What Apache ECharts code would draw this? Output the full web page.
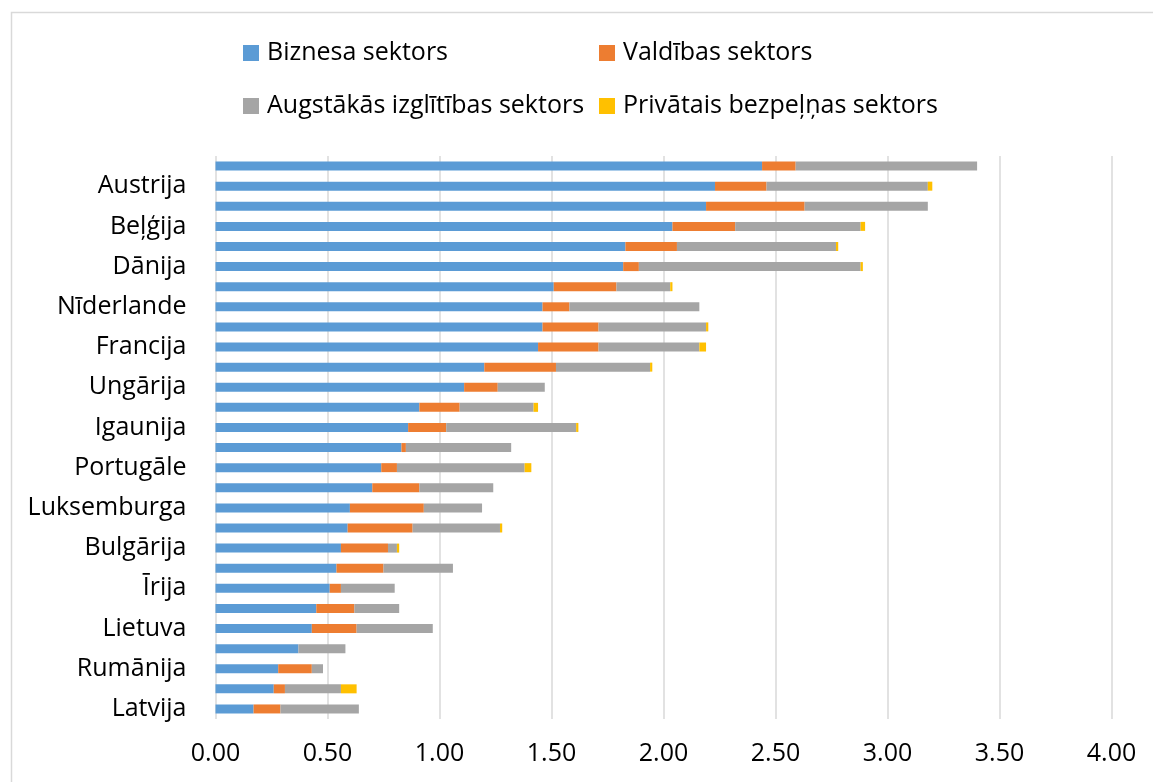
<!DOCTYPE html>
<html>
<head>
<meta charset="utf-8">
<script src="https://cdn.jsdelivr.net/npm/echarts@6/dist/echarts.min.js"></script>
<style>
  html, body { margin: 0; padding: 0; background: #fff; }
  #chart { width: 1153px; height: 782px; }
</style>
</head>
<body>
<div id="chart"></div>
<script>
// R&D expenditure by sector of performance, % of GDP
const countries = [
  'Zviedrija', 'Austrija', 'Vācija', 'Beļģija', 'Somija', 'Dānija', 'Slovēnija',
  'Nīderlande', 'ES-27', 'Francija', 'Čehija', 'Ungārija', 'Itālija', 'Igaunija',
  'Polija', 'Portugāle', 'Spānija', 'Luksemburga', 'Grieķija', 'Bulgārija',
  'Horvātija', 'Īrija', 'Slovākija', 'Lietuva', 'Malta', 'Rumānija', 'Kipra', 'Latvija'
];
const business = [2.44, 2.23, 2.19, 2.04, 1.83, 1.82, 1.51, 1.46, 1.46, 1.44, 1.20, 1.11, 0.91, 0.86,
                  0.83, 0.74, 0.70, 0.60, 0.59, 0.56, 0.54, 0.51, 0.45, 0.43, 0.37, 0.28, 0.26, 0.17];
const government = [0.15, 0.23, 0.44, 0.28, 0.23, 0.07, 0.28, 0.12, 0.25, 0.27, 0.32, 0.15, 0.18, 0.17,
                    0.02, 0.07, 0.21, 0.33, 0.29, 0.21, 0.21, 0.05, 0.17, 0.20, 0.00, 0.15, 0.05, 0.12];
const higherEducation = [0.81, 0.72, 0.55, 0.56, 0.71, 0.99, 0.24, 0.58, 0.48, 0.45, 0.42, 0.21, 0.33, 0.58,
                         0.47, 0.57, 0.33, 0.26, 0.39, 0.04, 0.31, 0.24, 0.20, 0.34, 0.21, 0.05, 0.25, 0.35];
const privateNonProfit = [0.00, 0.02, 0.00, 0.02, 0.01, 0.01, 0.01, 0.00, 0.01, 0.03, 0.01, 0.00, 0.02, 0.01,
                          0.00, 0.03, 0.00, 0.00, 0.01, 0.01, 0.00, 0.00, 0.00, 0.00, 0.00, 0.00, 0.07, 0.00];
const xTicks = [0, 0.5, 1, 1.5, 2, 2.5, 3, 3.5, 4];

const seriesNames = ['Biznesa sektors', 'Valdības sektors', 'Augstākās izglītības sektors', 'Privātais bezpeļņas sektors'];
const seriesData = [business, government, higherEducation, privateNonProfit];
const colors = ['#5B9BD5', '#ED7D31', '#A5A5A5', '#FFC000'];

const FONT = '"Open Sans", sans-serif';
const textStyle = { fontFamily: FONT, fontSize: 25, color: '#000' };

const chart = echarts.init(document.getElementById('chart'), null, { renderer: 'canvas' });

// one legend block per entry, laid out as a 2x2 table
const legendPos = [[243, 38], [599, 38], [243, 91], [599, 91]];
const legends = seriesNames.map((name, i) => ({
  show: true,
  data: [name],
  left: legendPos[i][0],
  top: legendPos[i][1],
  itemWidth: 16,
  itemHeight: 16,
  icon: 'rect',
  padding: 0,
  textStyle: Object.assign({}, textStyle, { lineHeight: 30, padding: [0, 0, 0, 3] })
}));

chart.setOption({
  animation: false,
  color: colors,
  textStyle: { fontFamily: FONT },
  graphic: [{
    type: 'rect',
    shape: { x: 11.5, y: 12.5, width: 1200, height: 820 },
    style: { fill: 'none', stroke: '#d9d9d9', lineWidth: 1.5 },
    silent: true
  }],
  legend: legends,
  grid: { left: 215.5, right: 41.5, top: 156, bottom: 63, containLabel: false },
  xAxis: {
    type: 'value',
    min: xTicks[0],
    max: xTicks[xTicks.length - 1],
    interval: xTicks[1] - xTicks[0],
    axisLine: { show: false },
    axisTick: { show: false },
    splitLine: { show: true, lineStyle: { color: '#d9d9d9', width: 1.5 } },
    axisLabel: Object.assign({}, textStyle, {
      margin: 22,
      formatter: v => v.toFixed(2)
    })
  },
  yAxis: {
    type: 'category',
    inverse: true,
    data: countries,
    axisLine: { show: false },
    axisTick: { show: false },
    axisLabel: Object.assign({}, textStyle, {
      margin: 29,
      interval: (idx) => idx % 2 === 1
    })
  },
  series: seriesNames.map((name, i) => ({
    name: name,
    type: 'bar',
    stack: 'total',
    barWidth: 9,
    data: seriesData[i],
    itemStyle: { color: colors[i] }
  }))
});
</script>
</body>
</html>
